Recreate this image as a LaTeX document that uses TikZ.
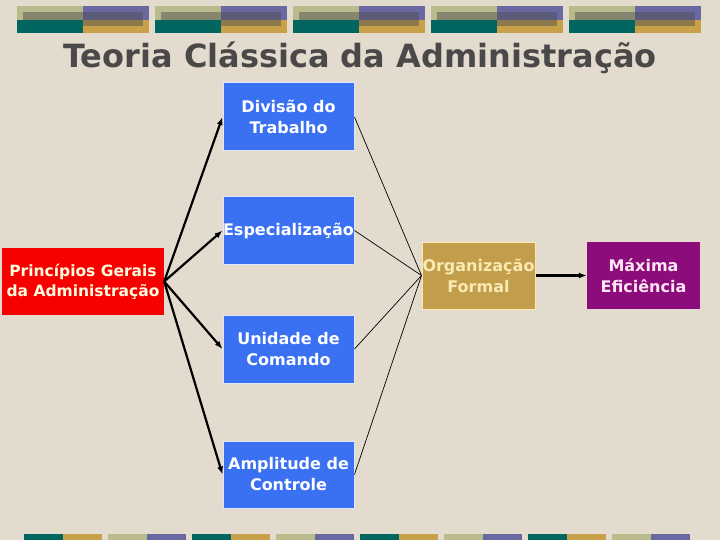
\documentclass[tikz,border=0pt]{standalone}
\usepackage{fontspec}
\setmainfont{DejaVu Sans}
\usetikzlibrary{arrows.meta}
\definecolor{bg}{HTML}{E3DBCE}
\definecolor{olivec}{HTML}{BABB8C}
\definecolor{purplec}{HTML}{6A68A0}
\definecolor{tealc}{HTML}{00665F}
\definecolor{goldc}{HTML}{C8A04A}
\definecolor{shadec}{HTML}{4E4E50}
\definecolor{bluebox}{HTML}{3A70F2}
\definecolor{blueedge}{HTML}{DDE6FA}
\definecolor{redbox}{HTML}{F80000}
\definecolor{orgbox}{HTML}{C29E4C}
\definecolor{orgedge}{HTML}{F8EAB0}
\definecolor{maxbox}{HTML}{8C0C7C}
\definecolor{titlec}{HTML}{4A4848}
\tikzset{
  base/.style={minimum width=131pt, minimum height=67pt, inner sep=0pt, align=center,
    font=\bfseries\fontsize{16}{21}\selectfont},
  bluenode/.style={base, fill=bluebox, draw=blueedge, line width=1pt, text=white},
  rednode/.style={base, fill=redbox, minimum width=162pt, text=white!88!yellow},
  orgnode/.style={base, fill=orgbox, draw=orgedge, line width=1pt, minimum width=113pt, text=orgedge},
  maxnode/.style={base, fill=maxbox, minimum width=113pt, text=white!90!magenta},
  bigarrow/.style={line width=2.2pt, -{Latex[length=8pt,width=6pt]}},
  thinline/.style={line width=0.7pt}
}
\begin{document}
\begin{tikzpicture}[x=1pt,y=-1pt]
\fill[bg] (0,0) rectangle (720,540);
\useasboundingbox (0,0) rectangle (720,540);
% top bars
\foreach \i in {0,...,4}{
  \pgfmathsetmacro{\xo}{16.5+138.1*\i}
  \fill[olivec] (\xo,6) rectangle ++(66.5,14);
  \fill[purplec] (\xo+66.5,6) rectangle ++(66,14);
  \fill[goldc] (\xo+66.5,20) rectangle ++(66,13);
  \fill[shadec, opacity=0.48] (\xo+6.5,12) rectangle ++(120,14);
  \fill[tealc] (\xo,20) rectangle ++(66.5,13);
}
% bottom bars
\foreach \i in {0,2,4,6}{
  \pgfmathsetmacro{\xo}{24+84*\i}
  \fill[tealc] (\xo,534) rectangle ++(39,6);
  \fill[goldc] (\xo+39,534) rectangle ++(39,6);
}
\foreach \i in {1,3,5,7}{
  \pgfmathsetmacro{\xo}{24+84*\i}
  \fill[olivec] (\xo,534) rectangle ++(39,6);
  \fill[purplec] (\xo+39,534) rectangle ++(39,6);
}
% title
\node[anchor=base, text=titlec, inner sep=0pt, font=\bfseries\fontsize{32}{36}\selectfont] (title) at (360,68) {Teoria Clássica da Administração};
% nodes
\node[bluenode, minimum height=68pt] (div) at (288.5,117) {Divisão do\\Trabalho};
\node[bluenode] (esp) at (288.5,230.5) {Especialização};
\node[bluenode, minimum height=68pt] (uni) at (288.5,349) {Unidade de\\Comando};
\node[bluenode] (amp) at (288.5,474.5) {Amplitude de\\Controle};
\node[rednode, font=\bfseries\fontsize{15.5}{20}\selectfont] (pg) at (83,281.5) {Princípios Gerais\\da Administração};
\node[orgnode] (org) at (478.5,275.5) {Organização\\Formal};
\node[maxnode] (max) at (643.5,275.5) {Máxima\\Eficiência};
% connectors
\foreach \t in {div,esp,uni,amp}{
  \draw[bigarrow] (pg.east) -- (\t.west);
  \draw[thinline] (\t.east) -- (org.west);
}
\draw[bigarrow] (org.east) -- (max.west);
\end{tikzpicture}
\end{document}
